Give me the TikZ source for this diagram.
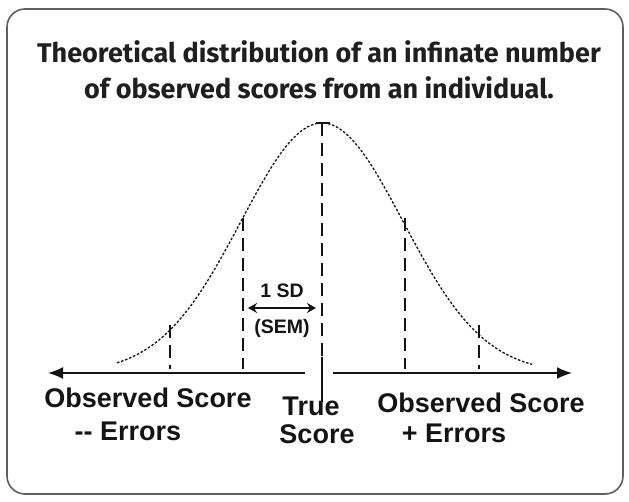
\documentclass[tikz,border=0pt]{standalone}
\usepackage{fontspec}
\setmainfont{Liberation Sans}
\newfontfamily\titlefont{Fira Sans}
\usetikzlibrary{arrows.meta}
\definecolor{frameline}{RGB}{95,95,95}
\definecolor{inkline}{RGB}{20,20,20}
\tikzset{
  frame/.style={draw=frameline, rounded corners=18pt, line width=1.6pt, fill=white},
  figtitle/.style={font=\titlefont\bfseries\fontsize{27}{36}\selectfont, align=center, text=black!88, inner sep=0pt},
  scorelabel/.style={font=\bfseries\fontsize{27}{30}\selectfont, anchor=base, inner sep=0pt, text=inkline},
  sdlabel/.style={font=\bfseries\fontsize{19.5}{22}\selectfont, anchor=base, inner sep=0pt, text=inkline},
  guide/.style={draw=inkline, line width=1.7pt, dash pattern=on 13pt off 7pt},
  bell/.style={draw=inkline, line width=1.3pt, dash pattern=on 2.5pt off 1.8pt},
  axisline/.style={draw=inkline, line width=1.6pt, -{Latex[length=15pt,width=12pt]}},
  sdarrow/.style={draw=inkline, line width=1.4pt, {Stealth[length=9pt,width=10pt]}-{Stealth[length=9pt,width=10pt]}}
}

\begin{document}
\begin{tikzpicture}[x=1pt,y=-1pt]
  \useasboundingbox (0,0) rectangle (629,502);
  \draw[frame] (7,9) rectangle (623,494);

  \node[figtitle] (title) at (319,70) {Theoretical distribution of an infinate number\\of observed scores from an individual.};

  % bell curve and key points
  \draw[bell] plot[domain=-205:210, samples=90] ({322+\x},{373-250*exp(-0.5*(\x/81)*(\x/81))});
  \coordinate (peak) at (322,123);
  \coordinate (centre) at (322,373);
  \coordinate (leftsd) at (243,218);
  \coordinate (rightsd) at (405,218);
  \coordinate (lefttwo) at (170,325);
  \coordinate (righttwo) at (479,325);

  \draw[guide] (peak) -- (322,357);
  \draw[inkline, line width=1.6pt] (322,357) -- (322,402);
  \draw[inkline, line width=1.6pt] (316,123) -- (330,123);
  \draw[guide] (leftsd) -- (leftsd |- 0,369);
  \draw[guide] (rightsd) -- (rightsd |- 0,369);
  \draw[guide] (lefttwo) -- (lefttwo |- 0,369);
  \draw[guide] (righttwo) -- (righttwo |- 0,369);

  % axis
  \coordinate (axisleft) at (305,373);
  \coordinate (axisright) at (333,373);
  \coordinate (tipleft) at (48,373);
  \coordinate (tipright) at (572,373);
  \draw[axisline] (axisleft) -- (tipleft);
  \draw[axisline] (axisright) -- (tipright);

  % 1 SD marker
  \node[sdlabel] (sdtop) at (282,298) {1 SD};
  \node[sdlabel] (sdbottom) at (282,334) {(SEM)};
  \coordinate (sdstart) at (248,308);
  \coordinate (sdend) at (316,308);
  \draw[sdarrow] (sdstart) -- (sdend);

  % labels
  \node[scorelabel] (obsleft) at (148,407) {Observed Score};
  \node[scorelabel] (errleft) at (128,440) {-{}- Errors};
  \node[scorelabel] (truetop) at (311,415) {True};
  \node[scorelabel] (truebottom) at (317,443) {Score};
  \node[scorelabel] (obsright) at (481,412) {Observed Score};
  \node[scorelabel] (errright) at (454,442) {+ Errors};
\end{tikzpicture}
\end{document}
